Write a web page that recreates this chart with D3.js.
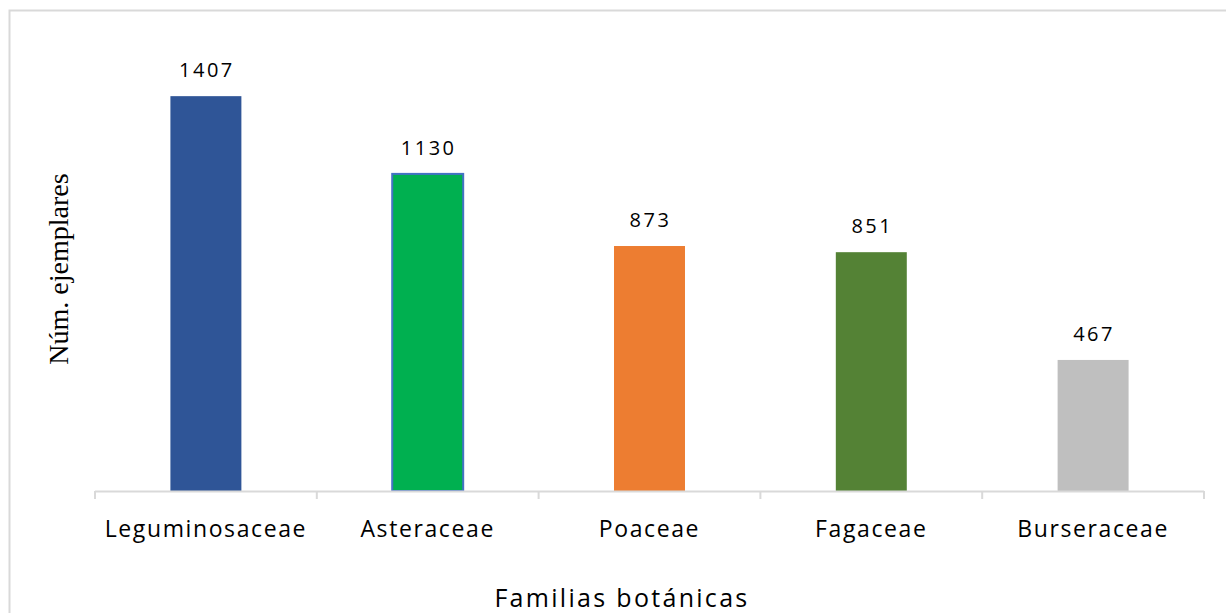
<!DOCTYPE html>
<html>
<head>
<meta charset="utf-8">
<script src="https://cdn.jsdelivr.net/npm/d3@7"></script>
<style>
  body { margin: 0; background: #fff; }
  text { font-family: "Open Sans", "Liberation Sans", sans-serif; fill: #000; }
</style>
</head>
<body>
<svg id="canvas" width="1226" height="613"></svg>
<script>
var familias = ["Leguminosaceae", "Asteraceae", "Poaceae", "Fagaceae", "Burseraceae"];
var ejemplares = [1407, 1130, 873, 851, 467];
var colores = ["#2F5597", "#00B050", "#ED7D31", "#548235", "#BFBFBF"];

var svg = d3.select("#canvas"),
  width = +svg.attr("width"),
  height = +svg.attr("height");

var margin = {left: 95, right: 22, top: 42, bottom: 122};

// chart frame
svg.append("rect")
  .attr("x", 9.5).attr("y", 10.5)
  .attr("width", width + 20).attr("height", height + 20)
  .attr("fill", "none")
  .attr("stroke", "#d9d9d9")
  .attr("stroke-width", 2);

var x = d3.scaleBand()
  .domain(familias)
  .range([margin.left, width - margin.right])
  .paddingInner(0.68)
  .paddingOuter(0.34);

var y = d3.scaleLinear()
  .domain([0, 1600])
  .range([height - margin.bottom, margin.top]);

var data = familias.map(function(f, i) {
  return {name: f, value: ejemplares[i], color: colores[i]};
});

svg.selectAll(".bar")
  .data(data)
  .enter().append("rect")
  .attr("class", "bar")
  .attr("x", function(d) { return x(d.name); })
  .attr("y", function(d) { return y(d.value); })
  .attr("width", x.bandwidth())
  .attr("height", function(d) { return y(0) - y(d.value); })
  .attr("fill", function(d) { return d.color; })
  .attr("stroke", function(d, i) { return i == 1 ? "#4472C4" : "none"; })
  .attr("stroke-width", 2);

// value labels
svg.selectAll(".val")
  .data(data)
  .enter().append("text")
  .attr("class", "val")
  .attr("x", function(d) { return x(d.name) + x.bandwidth() / 2 + 1; })
  .attr("y", function(d) { return y(d.value) - 19; })
  .attr("text-anchor", "middle")
  .style("font-size", "20px")
  .style("letter-spacing", "2.5px")
  .text(function(d) { return d.value; });

// x axis with ticks between categories
var step = x.step();
var axis = svg.append("g");
axis.append("line")
  .attr("x1", margin.left).attr("x2", width - margin.right)
  .attr("y1", y(0) + 0.5).attr("y2", y(0) + 0.5)
  .attr("stroke", "#d9d9d9").attr("stroke-width", 2);
axis.selectAll(".tick")
  .data(d3.range(familias.length + 1))
  .enter().append("line")
  .attr("x1", function(i) { return margin.left + i * step; })
  .attr("x2", function(i) { return margin.left + i * step; })
  .attr("y1", y(0)).attr("y2", y(0) + 8)
  .attr("stroke", "#d9d9d9").attr("stroke-width", 2);

svg.selectAll(".cat")
  .data(familias)
  .enter().append("text")
  .attr("class", "cat")
  .attr("x", function(d) { return x(d) + x.bandwidth() / 2; })
  .attr("y", y(0) + 46)
  .attr("text-anchor", "middle")
  .style("font-size", "23px")
  .style("letter-spacing", "1.6px")
  .text(function(d) { return d; });

svg.append("text")
  .attr("x", 622)
  .attr("y", 607)
  .attr("text-anchor", "middle")
  .style("font-size", "25px")
  .style("letter-spacing", "2.3px")
  .text("Familias botánicas");

svg.append("text")
  .attr("transform", "translate(68,269) rotate(-90)")
  .attr("text-anchor", "middle")
  .style("font-family", "'Liberation Serif', 'DejaVu Serif', serif")
  .style("font-size", "28px")
  .text("Núm. ejemplares");
</script>
</body>
</html>
